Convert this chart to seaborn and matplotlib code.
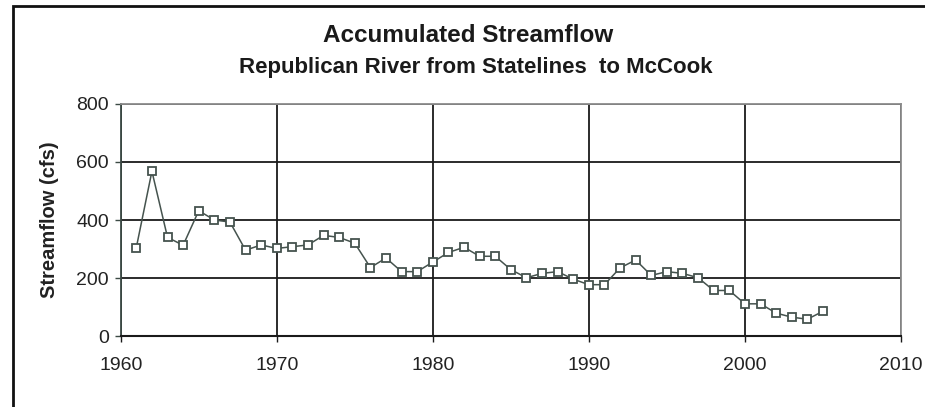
import pandas as pd
import numpy as np
import seaborn as sns
import matplotlib.pyplot as plt
from matplotlib.patches import Rectangle

years = list(range(1961, 2006))
flow = [305, 568, 340, 313, 432, 400, 393, 296, 314, 302,
        308, 314, 347, 340, 320, 236, 269, 222, 222, 255,
        288, 306, 275, 275, 229, 201, 216, 222, 196, 177,
        177, 235, 262, 209, 222, 216, 201, 157, 157, 111,
        111, 79, 65, 58, 85]

df = pd.DataFrame({'year': years, 'flow': flow})

sns.set_style('white')
plt.rcParams['font.family'] = ['Liberation Sans', 'DejaVu Sans']

fig = plt.figure(figsize=(9.25, 4.07), dpi=100)
ax = fig.add_axes([0.1305, 0.1744, 0.974 - 0.1305, 0.7445 - 0.1744])

line_col = '#45534e'
sns.lineplot(data=df, x='year', y='flow', ax=ax, color=line_col, lw=1.1,
             marker='s', markersize=6.3, markerfacecolor='white',
             markeredgecolor=line_col, markeredgewidth=1.3)

ax.set_xlim(1960, 2010)
ax.set_ylim(0, 800)
ax.set_xticks(range(1960, 2011, 10))
ax.set_yticks(range(0, 801, 200))
ax.grid(True, color='#1a1a1a', lw=1.3)
ax.set_axisbelow(True)

for s in ['top', 'right']:
    ax.spines[s].set_color('#8c8c8c')
    ax.spines[s].set_linewidth(1.3)
ax.spines['left'].set_color('#3c4a45')
ax.spines['left'].set_linewidth(1.3)
ax.spines['bottom'].set_color('#1a1a1a')
ax.spines['bottom'].set_linewidth(1.5)

ax.tick_params(axis='y', direction='out', length=4, width=1, color='#3c4a45',
               left=True, labelsize=14, pad=4.5, labelcolor='#222222')
ax.tick_params(axis='x', direction='out', length=4, width=1, color='#1a1a1a',
               bottom=True, labelsize=14, pad=11, labelcolor='#222222')

ax.set_xlabel(None)
ax.set_ylabel('Streamflow (cfs)', fontsize=14.5, fontweight='bold', color='#222222',
              labelpad=12)

fig.text(0.506, 0.912, 'Accumulated Streamflow', ha='center', va='center',
         fontsize=17.5, fontweight='bold', color='#1a1a1a')
fig.text(0.514, 0.835, 'Republican River from Statelines  to McCook', ha='center',
         va='center', fontsize=16, fontweight='bold', color='#1a1a1a')

# outer chart border
fig.patches.append(Rectangle((12.5 / 925, -0.2), 1.2, 1.2 - 6 / 407,
                             transform=fig.transFigure, fill=False,
                             edgecolor='#111111', lw=2, clip_on=False))

fig.savefig('out.png', dpi=100)
